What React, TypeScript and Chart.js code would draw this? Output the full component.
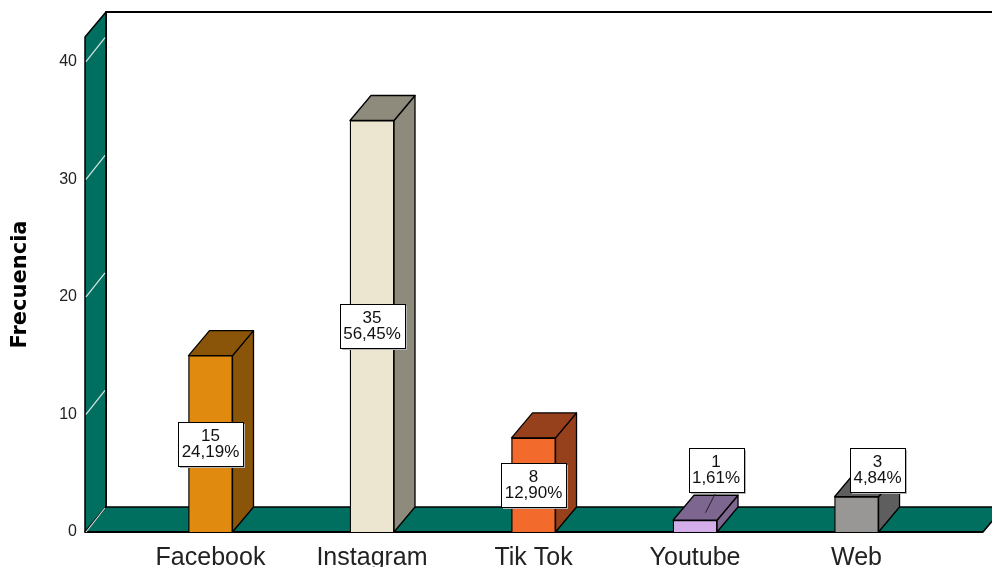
import React, { useEffect, useRef } from 'react';
import { Chart, registerables } from 'chart.js';

Chart.register(...registerables);

// ---- data ----
const categories = ['Facebook', 'Instagram', 'Tik Tok', 'Youtube', 'Web'];
const frequencies = [15, 35, 8, 1, 3];
const percentLabels = ['24,19%', '56,45%', '12,90%', '1,61%', '4,84%'];
const yTickValues = [0, 10, 20, 30, 40];
const frontColors = ['#E08A10', '#ECE6D0', '#F26A2C', '#D4AEE8', '#999795'];
const darkColors = ['#8A5409', '#8F8B7C', '#96401C', '#7D6690', '#5E5E5E'];

// ---- style / geometry constants ----
const X_MIN = -0.777;
const X_MAX = 4.783;
const Y_MAX = 42.1;
const DX = 21;
const DY = -25;
const TEAL = '#006F5F';
const BOX_H = 44;
const SMALL_LABEL_LIFT = 40;
const SANS = '"Liberation Sans", Arial, sans-serif';

const threeD = {
  id: 'threeD',
  beforeDatasetsDraw(chart: any) {
    const { ctx, chartArea } = chart;
    const { left, right, top, bottom } = chartArea;
    const W = chart.width;
    const y = chart.scales.y;
    ctx.save();
    ctx.lineJoin = 'round';
    // back wall
    ctx.fillStyle = '#ffffff';
    ctx.fillRect(left + DX, top + DY, W, bottom - top);
    ctx.strokeStyle = '#000';
    ctx.lineWidth = 1.8;
    ctx.beginPath();
    ctx.moveTo(W + 5, top + DY);
    ctx.lineTo(left + DX, top + DY);
    ctx.lineTo(left + DX, bottom + DY);
    ctx.stroke();
    // left wall
    ctx.fillStyle = TEAL;
    ctx.lineWidth = 1.5;
    ctx.beginPath();
    ctx.moveTo(left, top);
    ctx.lineTo(left + DX, top + DY);
    ctx.lineTo(left + DX, bottom + DY);
    ctx.lineTo(left, bottom);
    ctx.closePath();
    ctx.fill();
    ctx.stroke();
    // floor
    ctx.beginPath();
    ctx.moveTo(left, bottom);
    ctx.lineTo(left + DX, bottom + DY);
    ctx.lineTo(right + DX, bottom + DY);
    ctx.lineTo(right, bottom);
    ctx.closePath();
    ctx.fill();
    ctx.stroke();
    // thicker front floor edge
    ctx.lineWidth = 2;
    ctx.beginPath();
    ctx.moveTo(left, bottom);
    ctx.lineTo(right, bottom);
    ctx.stroke();
    // wall tick diagonals
    ctx.strokeStyle = '#d8e8e2';
    ctx.lineWidth = 1.2;
    y.ticks.forEach((t: any) => {
      const py = y.getPixelForValue(t.value);
      ctx.beginPath();
      ctx.moveTo(left + 1, py);
      ctx.lineTo(left + DX - 1, py + DY + 1);
      ctx.stroke();
    });
    // bar side and top faces
    const meta = chart.getDatasetMeta(0);
    ctx.strokeStyle = '#000';
    ctx.lineWidth = 1.3;
    meta.data.forEach((el: any, i: number) => {
      const l = el.x - el.width / 2;
      const r = el.x + el.width / 2;
      ctx.fillStyle = darkColors[i];
      ctx.beginPath();
      ctx.moveTo(r, el.y);
      ctx.lineTo(r + DX, el.y + DY);
      ctx.lineTo(r + DX, el.base + DY);
      ctx.lineTo(r, el.base);
      ctx.closePath();
      ctx.fill();
      ctx.stroke();
      ctx.beginPath();
      ctx.moveTo(l, el.y);
      ctx.lineTo(l + DX, el.y + DY);
      ctx.lineTo(r + DX, el.y + DY);
      ctx.lineTo(r, el.y);
      ctx.closePath();
      ctx.fill();
      ctx.stroke();
    });
    ctx.restore();
  },
  afterDatasetsDraw(chart: any) {
    const { ctx } = chart;
    const meta = chart.getDatasetMeta(0);
    ctx.save();
    ctx.font = '17px ' + SANS;
    ctx.textAlign = 'center';
    ctx.textBaseline = 'middle';
    meta.data.forEach((el: any, i: number) => {
      const lines = [String(frequencies[i]), percentLabels[i]];
      const tw = Math.max(...lines.map((s) => ctx.measureText(s).width));
      const bw = Math.round(tw + 7);
      const barH = el.base - el.y;
      let cx: number;
      let cy: number;
      if (barH >= BOX_H + 10) {
        cx = el.x;
        cy = (el.y + el.base) / 2;
      } else {
        cx = el.x + DX;
        cy = el.base - SMALL_LABEL_LIFT - BOX_H / 2;
        ctx.strokeStyle = '#222';
        ctx.lineWidth = 1;
        ctx.beginPath();
        ctx.moveTo(cx, cy + BOX_H / 2);
        ctx.lineTo(el.x + DX / 2, el.y + DY / 2 + 5);
        ctx.stroke();
      }
      const bx = Math.round(cx - bw / 2) + 0.5;
      const by = Math.round(cy - BOX_H / 2) + 0.5;
      ctx.fillStyle = '#b5b5b5';
      ctx.fillRect(bx + 1.5, by + 1.5, bw, BOX_H);
      ctx.fillStyle = '#ffffff';
      ctx.fillRect(bx, by, bw, BOX_H);
      ctx.strokeStyle = '#000';
      ctx.lineWidth = 1;
      ctx.strokeRect(bx, by, bw, BOX_H);
      ctx.fillStyle = '#111';
      ctx.fillText(lines[0], cx, cy - 7.5);
      ctx.fillText(lines[1], cx, cy + 8.5);
    });
    ctx.restore();
  },
};

export default function App() {
  const canvasRef = useRef<HTMLCanvasElement | null>(null);

  useEffect(() => {
    if (!canvasRef.current) return;
    const chart = new Chart(canvasRef.current, {
      type: 'bar',
      data: {
        datasets: [
          {
            data: frequencies.map((v, i) => ({ x: i, y: v })),
            backgroundColor: frontColors,
            borderColor: '#000',
            borderWidth: 1.3,
            barThickness: 44,
          } as any,
        ],
      },
      options: {
        animation: false,
        responsive: false,
        layout: { padding: { top: 37, right: 9, left: 0, bottom: 0 } },
        plugins: {
          legend: { display: false },
          tooltip: { enabled: false },
        },
        scales: {
          x: {
            type: 'linear',
            offset: false,
            min: X_MIN,
            max: X_MAX,
            grid: { display: false, drawTicks: false, offset: false },
            border: { display: false },
            afterBuildTicks: (s: any) => {
              s.ticks = categories.map((_, i) => ({ value: i }));
            },
            afterFit: (s: any) => {
              s.height = 35;
            },
            ticks: {
              callback: (v: any) => categories[v as number] ?? '',
              font: { family: SANS, size: 25 },
              color: '#222',
              padding: 11,
              maxRotation: 0,
              autoSkip: false,
            },
          },
          y: {
            min: 0,
            max: Y_MAX,
            grid: { display: false, drawTicks: false },
            border: { display: false },
            afterBuildTicks: (s: any) => {
              s.ticks = yTickValues.map((v) => ({ value: v }));
            },
            afterFit: (s: any) => {
              s.width = 85;
            },
            ticks: {
              font: { family: SANS, size: 16 },
              color: '#222',
              padding: 8,
            },
            title: {
              display: true,
              text: 'Frecuencia',
              font: { family: '"DejaVu Sans", sans-serif', weight: 'bold', size: 21 },
              color: '#000',
              padding: { top: 8, bottom: 0 },
            },
          },
        } as any,
      },
      plugins: [threeD],
    });
    return () => chart.destroy();
  }, []);

  return (
    <div style={{ position: 'fixed', left: 0, top: 0, width: 992, height: 567, background: '#fff' }}>
      <canvas ref={canvasRef} width={992} height={567} style={{ display: 'block' }} />
    </div>
  );
}
